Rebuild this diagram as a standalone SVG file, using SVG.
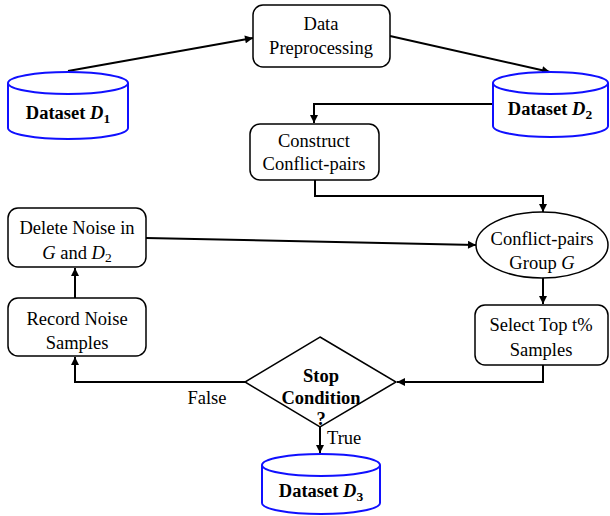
<svg xmlns="http://www.w3.org/2000/svg" width="610" height="516" viewBox="0 0 610 516">
<defs>
<marker id="arr" viewBox="0 0 10 10" refX="10" refY="5" markerWidth="9" markerHeight="8" markerUnits="userSpaceOnUse" orient="auto">
<path d="M0,0 L10,5 L0,10 z" fill="#000"/>
</marker>
<style>
.box{fill:#fff;stroke:#000;stroke-width:1.5}
.cyl{fill:#fff;stroke:#1010ff;stroke-width:2}
.t{font-family:"Liberation Serif","Times New Roman",serif;font-size:18.5px;fill:#000;text-anchor:middle}
.b{font-weight:bold}
.c{fill:none;stroke:#000;stroke-width:2;marker-end:url(#arr)}
</style>
</defs>
<rect width="610" height="516" fill="#fff"/>
<g id="connectors">
<line class="c" x1="68" y1="71" x2="253" y2="38"/>
<line class="c" x1="390" y1="36" x2="550" y2="72"/>
<polyline class="c" points="493,104 314,104 314,123"/>
<polyline class="c" points="315,180 315,196 543,196 543,212"/>
<line class="c" x1="543" y1="278" x2="543" y2="304"/>
<polyline class="c" points="543,365 543,382 397,382"/>
<line class="c" x1="320" y1="427" x2="320" y2="453"/>
<polyline class="c" points="245,382 75,382 75,357"/>
<line class="c" x1="75" y1="298" x2="75" y2="268"/>
<line class="c" x1="146" y1="238" x2="476" y2="245"/>
<text class="t" x="207" y="404">False</text>
<text class="t" x="327" y="444" text-anchor="start" style="text-anchor:start">True</text>
</g>
<g id="d1">
<path class="cyl" d="M8,83 L8,128 A60,11 0 0 0 128,128 L128,83"/>
<ellipse class="cyl" cx="68" cy="83" rx="60" ry="11"/>
<text class="t b" x="68" y="119">Dataset <tspan font-style="italic">D</tspan><tspan font-size="13.5" dy="4">1</tspan></text>
</g>
<g id="dataprep">
<rect class="box" x="253" y="5" width="137" height="62" rx="10"/>
<text class="t" x="321" y="30">Data</text>
<text class="t" x="321" y="54">Preprocessing</text>
</g>
<g id="d2">
<path class="cyl" d="M493,83 L493,126 A57.5,11 0 0 0 608,126 L608,83"/>
<ellipse class="cyl" cx="550.5" cy="83" rx="57.5" ry="11"/>
<text class="t b" x="550" y="115">Dataset <tspan font-style="italic">D</tspan><tspan font-size="13.5" dy="4">2</tspan></text>
</g>
<g id="construct">
<rect class="box" x="250" y="124" width="129" height="56" rx="10"/>
<text class="t" x="314" y="147">Construct</text>
<text class="t" x="314" y="170">Conflict-pairs</text>
</g>
<g id="group">
<ellipse class="box" cx="542" cy="245" rx="66" ry="33"/>
<text class="t" x="542" y="245">Conflict-pairs</text>
<text class="t" x="542" y="269">Group <tspan font-style="italic">G</tspan></text>
</g>
<g id="select">
<rect class="box" x="475" y="305" width="133" height="60" rx="10"/>
<text class="t" x="541" y="331">Select Top t%</text>
<text class="t" x="541" y="356">Samples</text>
</g>
<g id="stop">
<polygon class="box" points="320,337 396,382 320,427 245,382"/>
<text class="t b" x="321" y="382">Stop</text>
<text class="t b" x="321" y="404">Condition</text>
<text class="t b" x="321" y="425">?</text>
</g>
<g id="d3">
<path class="cyl" d="M262,465 L262,503 A59,11 0 0 0 380,503 L380,465"/>
<ellipse class="cyl" cx="321" cy="465" rx="59" ry="11"/>
<text class="t b" x="321" y="497">Dataset <tspan font-style="italic">D</tspan><tspan font-size="13.5" dy="4">3</tspan></text>
</g>
<g id="record">
<rect class="box" x="8" y="298" width="138" height="58" rx="10"/>
<text class="t" x="77" y="325">Record Noise</text>
<text class="t" x="77" y="349">Samples</text>
</g>
<g id="delete">
<rect class="box" x="8" y="208" width="138" height="59" rx="10"/>
<text class="t" x="77" y="234">Delete Noise in</text>
<text class="t" x="77" y="259"><tspan font-style="italic">G</tspan> and <tspan font-style="italic">D</tspan><tspan font-size="13.5" dy="3">2</tspan></text>
</g>
</svg>
